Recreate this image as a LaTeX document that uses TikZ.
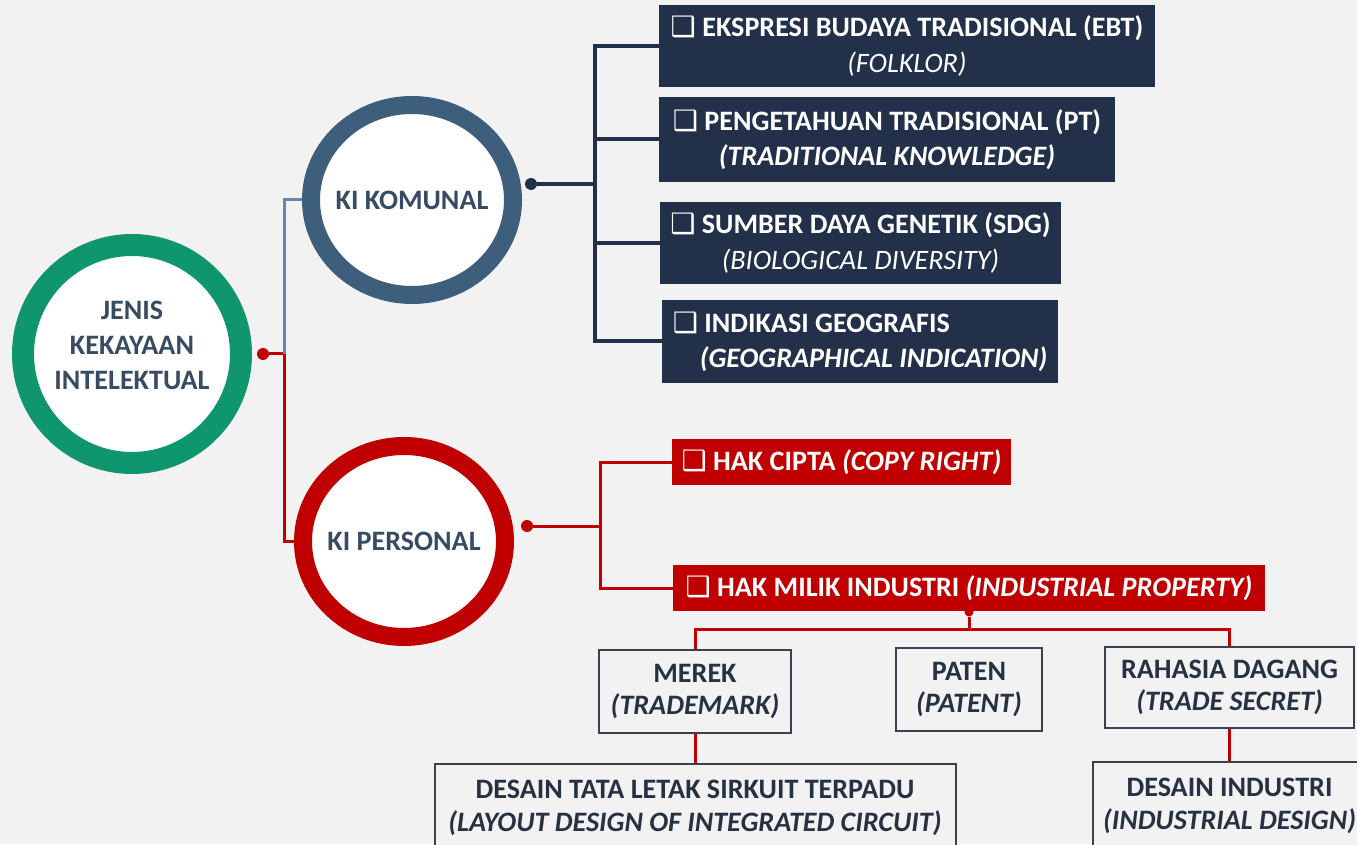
\documentclass[tikz,border=0pt]{standalone}
\usepackage{fontspec}
\setmainfont{Carlito}
\newfontfamily\symfont{DejaVu Sans}
\usetikzlibrary{positioning, shapes.geometric}

\definecolor{bggray}{RGB}{242,242,242}
\definecolor{hubgreen}{RGB}{16,150,110}
\definecolor{komblue}{RGB}{62,95,124}
\definecolor{kired}{RGB}{192,0,0}
\definecolor{navy}{RGB}{34,48,73}
\definecolor{linkblue}{RGB}{96,136,176}
\definecolor{ringtext}{RGB}{55,75,98}
\definecolor{boxtext}{RGB}{38,50,66}
\definecolor{boxline}{RGB}{55,65,80}

\newcommand{\chk}{{\symfont ❑}}

\begin{document}
\begin{tikzpicture}[
    every node/.style={font=\fontsize{16}{20}\selectfont\bfseries},
    hub/.style={circle, draw=hubgreen, line width=0.44cm, fill=white, minimum size=4.36cm, text=ringtext, align=center},
    kiring/.style={ellipse, line width=0.36cm, fill=white, inner sep=0pt, minimum width=4.04cm, minimum height=3.80cm, text=ringtext},
    navybox/.style={fill=navy, text=white, align=center, inner sep=0pt},
    redbox/.style={fill=kired, text=white, align=center, inner sep=0pt},
    plainbox/.style={draw=boxline, line width=0.04cm, fill=bggray, text=boxtext, align=center, inner sep=0pt, font=\fontsize{16}{18.5}\selectfont\bfseries},
    jdot/.style={circle, inner sep=0pt, minimum size=0.24cm},
    navylink/.style={draw=navy, line width=0.08cm},
    redlink/.style={draw=kired, line width=0.06cm},
    bluelink/.style={draw=linkblue, line width=0.06cm}
  ]
    \useasboundingbox (0,0) rectangle (27.14,16.88);
    \clip (0,0) rectangle (27.14,16.88);
    \fill[bggray] (0,0) rectangle (27.14,16.88);

    % Main circle and the two groups
    \node[hub] (c0) at (2.64,9.80) {JENIS\\KEKAYAAN\\INTELEKTUAL\\[-0.35cm]\mbox{}};
    \node[jdot, fill=kired] (d0) at (5.26,9.80) {};
    \coordinate (j0) at (5.68,9.80);

    \node[kiring, draw=komblue] (c1) at (8.24,12.88) {\makebox[0pt]{KI KOMUNAL}};
    \node[kiring, draw=kired, minimum height=3.82cm] (c2) at (8.08,6.05) {\makebox[0pt]{KI PERSONAL}};

    \draw[redlink] (d0) -- (j0);
    \draw[bluelink] (j0) |- (c1.west);
    \draw[redlink] (j0) |- (c2.west);

    % KI Komunal branches
    \node[jdot, fill=navy] (d1) at (10.62,13.20) {};
    \coordinate (j1) at (11.90,13.20);

    \node[navybox, minimum width=9.92cm, minimum height=1.64cm] (k1) at (18.14,15.96)
      {\chk{} EKSPRESI BUDAYA TRADISIONAL (EBT)\\ {\mdseries\itshape (FOLKLOR)}};
    \node[navybox, minimum width=9.12cm, minimum height=1.70cm] (k2) at (17.74,14.09)
      {\chk{} PENGETAHUAN TRADISIONAL (PT)\\ \textit{(TRADITIONAL KNOWLEDGE)}};
    \node[navybox, minimum width=8.02cm, minimum height=1.64cm] (k3) at (17.21,12.02)
      {\chk{} SUMBER DAYA GENETIK (SDG)\\ {\mdseries\itshape (BIOLOGICAL DIVERSITY)}};
    \node[navybox, align=left, minimum width=7.92cm, minimum height=1.66cm] (k4) at (17.20,10.05)
      {\chk{} INDIKASI GEOGRAFIS\\ \hspace*{0.54cm}\textit{(GEOGRAPHICAL INDICATION)}};

    \draw[navylink] (d1) -- (j1);
    \foreach \k in {k1,k2,k3,k4}
      \draw[navylink] (j1) |- (\k.west);

    % KI Personal branches
    \node[jdot, fill=kired] (d2) at (10.54,6.36) {};
    \coordinate (j2) at (12.00,6.36);

    \node[redbox, minimum width=6.78cm, minimum height=0.92cm] (p1) at (16.83,7.64)
      {\chk{} HAK CIPTA \textit{(COPY RIGHT)}};
    \node[redbox, minimum width=11.84cm, minimum height=0.92cm] (p2) at (19.38,5.12)
      {\chk{} HAK MILIK INDUSTRI \textit{(INDUSTRIAL PROPERTY)}};

    \draw[redlink] (d2) -- (j2);
    \draw[redlink] (j2) |- (p1.west);
    \draw[redlink] (j2) |- (p2.west);

    % Industrial property
    \node[jdot, fill=kired, minimum size=0.18cm] (d3) at (19.38,4.64) {};
    \coordinate (j3) at (19.38,4.30);

    \node[plainbox, minimum width=3.84cm, minimum height=1.66cm] (m1) at (13.90,3.05)
      {MEREK\\ \textit{(TRADEMARK)}};
    \node[plainbox, minimum width=2.92cm, minimum height=1.66cm] (m2) at (19.38,3.09)
      {PATEN\\ \textit{(PATENT)}};
    \node[plainbox, minimum width=4.98cm, minimum height=1.62cm] (m3) at (24.59,3.13)
      {RAHASIA DAGANG\\ \textit{(TRADE SECRET)}};
    \node[plainbox, minimum width=10.42cm, minimum height=1.76cm] (m4) at (13.90,0.72)
      {DESAIN TATA LETAK SIRKUIT TERPADU\\ \textit{(LAYOUT DESIGN OF INTEGRATED CIRCUIT)}};
    \node[plainbox, minimum width=5.48cm, minimum height=1.76cm] (m5) at (24.59,0.76)
      {DESAIN INDUSTRI\\ \textit{(INDUSTRIAL DESIGN)}};

    \draw[redlink] (d3) -- (j3);
    \draw[redlink] (j3) -| (m1.north);
    \draw[redlink] (j3) -| (m3.north);
    \draw[redlink] (m1) -- (m4);
    \draw[redlink] (m3) -- (m5);
  \end{tikzpicture}
\end{document}
